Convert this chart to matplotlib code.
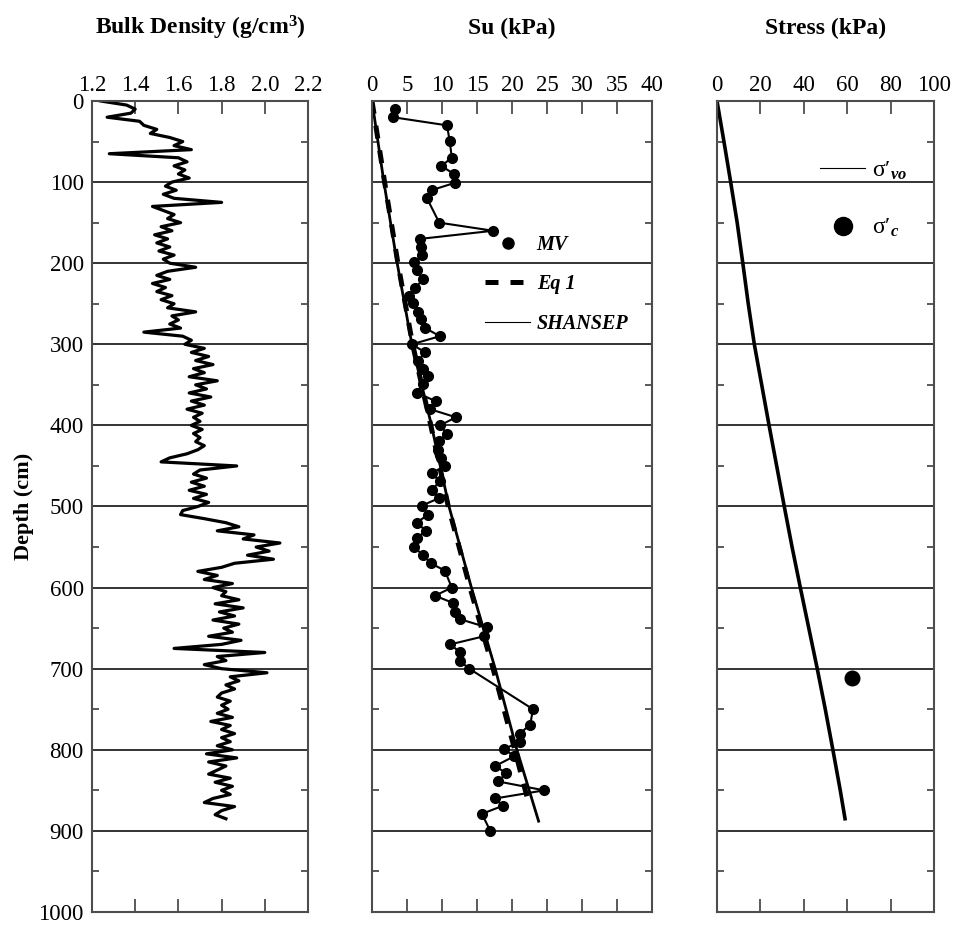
import numpy as np
import matplotlib
matplotlib.use("Agg")
import matplotlib.pyplot as plt
from matplotlib.lines import Line2D
from matplotlib.ticker import MultipleLocator, FixedLocator

plt.rcParams['font.family'] = ['Liberation Serif', 'DejaVu Serif']
plt.rcParams['mathtext.fontset'] = 'custom'
plt.rcParams['mathtext.rm'] = 'Liberation Serif'
plt.rcParams['mathtext.it'] = 'Liberation Serif:italic'
plt.rcParams['mathtext.bf'] = 'Liberation Serif:bold'
try:
    plt.rcParams['mathtext.bfit'] = 'Liberation Serif:bold:italic'
except KeyError:
    pass

# ---------------- data ----------------
# bulk density log, sampled every 5 cm from the top of the core
RHO_STEP_CM = 5
bulk_density = [
    1.24, 1.36, 1.40, 1.38, 1.27, 1.42, 1.44, 1.50, 1.47, 1.56,
    1.62, 1.58, 1.66, 1.28, 1.60, 1.64, 1.58, 1.63, 1.60, 1.65,
    1.57, 1.54, 1.59, 1.53, 1.58, 1.80, 1.48, 1.53, 1.58, 1.55,
    1.61, 1.52, 1.57, 1.49, 1.55, 1.50, 1.56, 1.51, 1.58, 1.53,
    1.56, 1.68, 1.55, 1.50, 1.56, 1.48, 1.54, 1.50, 1.57, 1.52,
    1.58, 1.55, 1.68, 1.57, 1.60, 1.56, 1.61, 1.44, 1.62, 1.66,
    1.63, 1.72, 1.66, 1.74, 1.68, 1.76, 1.67, 1.72, 1.65, 1.78,
    1.68, 1.73, 1.65, 1.75, 1.66, 1.72, 1.64, 1.71, 1.67, 1.70,
    1.66, 1.71, 1.67, 1.70, 1.68, 1.72, 1.69, 1.64, 1.56, 1.52,
    1.87, 1.70, 1.67, 1.73, 1.66, 1.72, 1.65, 1.73, 1.67, 1.74,
    1.69, 1.62, 1.61, 1.72, 1.82, 1.88, 1.78, 1.95, 1.90, 2.07,
    1.96, 2.02, 1.92, 2.04, 1.86, 1.80, 1.69, 1.78, 1.72, 1.85,
    1.76, 1.82, 1.80, 1.88, 1.77, 1.90, 1.79, 1.86, 1.76, 1.88,
    1.81, 1.85, 1.74, 1.89, 1.80, 1.58, 2.00, 1.78, 1.82, 1.72,
    1.80, 2.01, 1.84, 1.88, 1.82, 1.86, 1.80, 1.78, 1.84, 1.80,
    1.83, 1.78, 1.85, 1.75, 1.84, 1.80, 1.86, 1.80, 1.84, 1.78,
    1.85, 1.73, 1.87, 1.74, 1.82, 1.78, 1.74, 1.84, 1.77, 1.85,
    1.80, 1.84, 1.76, 1.72, 1.86, 1.80, 1.77, 1.82,
]
rho_depth = [RHO_STEP_CM * i for i in range(len(bulk_density))]

# miniature vane shear strength
mv_depth = [10, 20, 30, 49, 70, 80, 90, 101, 110, 119,
            150, 160, 170, 180, 190, 199, 209, 220, 230, 240,
            249, 260, 269, 280, 290, 300, 310, 320, 330, 339,
            349, 360, 370, 380, 390, 400, 410, 419, 430, 440,
            450, 459, 469, 480, 490, 499, 510, 520, 530, 539,
            550, 560, 570, 579, 600, 610, 619, 630, 639, 649,
            660, 670, 680, 690, 700, 750, 769, 780, 790, 799,
            808, 820, 829, 839, 850, 860, 869, 879, 900]
mv_su = [3.3, 3.0, 10.7, 11.1, 11.4, 9.9, 11.7, 11.8, 8.5, 7.8,
         9.6, 17.3, 6.9, 7.0, 7.2, 6.0, 6.4, 7.3, 6.2, 5.3,
         5.9, 6.6, 7.0, 7.6, 9.7, 5.7, 7.6, 6.6, 7.3, 8.0,
         7.3, 6.4, 9.1, 8.3, 12.0, 9.7, 10.7, 9.6, 9.4, 9.8,
         10.4, 8.5, 9.7, 8.5, 9.5, 7.1, 8.0, 6.4, 7.7, 6.4,
         6.0, 7.3, 8.4, 10.4, 11.4, 9.0, 11.6, 11.9, 12.6, 16.4,
         16.0, 11.2, 12.6, 12.5, 13.9, 23.0, 22.6, 21.1, 21.1, 18.9,
         20.3, 17.6, 19.2, 18.0, 24.6, 17.6, 18.7, 15.7, 16.9]

# predicted strength profiles
eq1_depth = [0, 100, 200, 300, 400, 500, 600, 700, 800, 870]
eq1_su = [0.0, 1.8, 3.7, 5.8, 8.4, 10.9, 14.0, 17.3, 20.4, 22.5]
shansep_depth = [0, 100, 200, 300, 400, 500, 600, 700, 800, 888]
shansep_su = [0.0, 1.7, 3.6, 5.7, 8.5, 11.0, 14.2, 17.6, 20.7, 23.8]

# effective vertical stress and preconsolidation stress
svo_depth = [0, 50, 100, 150, 200, 250, 300, 350, 400, 450,
             500, 550, 600, 650, 700, 750, 800, 850, 885]
svo_kpa = [0.0, 3.2, 6.3, 9.3, 11.9, 14.4, 17.2, 20.6, 24.0, 27.5,
           31.0, 34.6, 38.4, 42.3, 46.2, 49.9, 53.4, 56.8, 59.0]
sc_depth = [711]
sc_kpa = [62.0]

# ---------------- figure ----------------
W, H = 961, 930
fig = plt.figure(figsize=(W / 100, H / 100), dpi=100)
TOP, BOT = 101, 912


def box(left, right):
    return [left / W, 1 - BOT / H, (right - left) / W, (BOT - TOP) / H]


ax1 = fig.add_axes(box(92, 308))
ax2 = fig.add_axes(box(372, 652))
ax3 = fig.add_axes(box(717, 934))

SPINE = '#4d4d4d'
TICK_FS = 16.5

for ax in (ax1, ax2, ax3):
    ax.set_ylim(1000, 0)
    ax.yaxis.set_major_locator(MultipleLocator(100))
    ax.yaxis.set_minor_locator(MultipleLocator(50))
    ax.grid(axis='y', which='major', color='#333333', lw=1.4)
    ax.set_axisbelow(True)
    for sp in ax.spines.values():
        sp.set_color(SPINE)
        sp.set_linewidth(1.5)
    ax.xaxis.set_ticks_position('both')
    ax.xaxis.set_label_position('top')
    ax.tick_params(axis='x', which='major', direction='in', length=9.5,
                   width=1.3, color=SPINE, top=True, bottom=True,
                   labeltop=True, labelbottom=False, labelsize=TICK_FS, pad=3.5)
    ax.tick_params(axis='y', which='major', direction='in', length=0,
                   left=True, right=True, labelleft=False, labelsize=TICK_FS, pad=6)
    ax.tick_params(axis='y', which='minor', direction='in', length=5,
                   width=1.3, color=SPINE, left=True, right=True)

ax1.tick_params(axis='y', which='major', labelleft=True)

# bulk density
ax1.plot(bulk_density, rho_depth, color='black', lw=2.3)
ax1.set_xlim(1.2, 2.2)
ax1.xaxis.set_major_locator(FixedLocator([1.2, 1.4, 1.6, 1.8, 2.0, 2.2]))
ax1.set_xticklabels(['1.2', '1.4', '1.6', '1.8', '2.0', '2.2'])
ax1.set_ylabel('Depth (cm)', fontsize=16, fontweight='bold', labelpad=3)

# undrained shear strength
ax2.plot(shansep_su, shansep_depth, color='black', lw=2.0)
ax2.plot(eq1_su, eq1_depth, color='black', lw=3.6, ls=(0, (2.6, 2.4)))
ax2.plot(mv_su, mv_depth, color='black', lw=1.5, marker='o', ms=7)
ax2.set_xlim(0, 40)
ax2.xaxis.set_major_locator(MultipleLocator(5))

mv_h = Line2D([], [], color='black', marker='o', ls='none', ms=8)
eq_h = Line2D([], [], color='black', lw=3.6, ls=(0, (2.6, 2.4)))
sh_h = Line2D([], [], color='black', lw=0.8)
ax2.legend([mv_h, eq_h, sh_h], ['MV', 'Eq 1', 'SHANSEP'],
           loc='upper left', bbox_to_anchor=(0.405, 0.835), frameon=False,
           prop=dict(family='Liberation Serif', weight='bold', style='italic', size=14.5),
           handlelength=2.2, handletextpad=0.35, labelspacing=0.97,
           borderpad=0, borderaxespad=0)

# stresses
ax3.plot(svo_kpa, svo_depth, color='black', lw=2.6)
ax3.plot(sc_kpa, sc_depth, color='black', marker='o', ls='none', ms=10.5)
ax3.set_xlim(0, 100)
ax3.xaxis.set_major_locator(MultipleLocator(20))

svo_h = Line2D([], [], color='black', lw=0.8)
sc_h = Line2D([], [], color='black', marker='o', ls='none', ms=13)
ax3.legend([svo_h, sc_h],
           [r"$\mathrm{\sigma}\prime_{\mathbfit{vo}}$", r"$\mathrm{\sigma}\prime_{\mathbfit{c}}$"],
           loc='upper left', bbox_to_anchor=(0.475, 0.928), frameon=False,
           prop=dict(family='Liberation Serif', size=17),
           handlelength=1.9, handletextpad=0.3, labelspacing=1.5,
           borderpad=0, borderaxespad=0)

# panel headings
TITLE_Y = 1 + (TOP - 28) / (BOT - TOP)
for ax, label in ((ax1, 'Bulk Density (g/cm$^{\\mathbf{3}}$)'),
                  (ax2, 'Su (kPa)'),
                  (ax3, 'Stress (kPa)')):
    ax.set_title(label, fontsize=17, fontweight='bold', y=TITLE_Y, va='center', pad=0)

fig.savefig('out.png', dpi=100)
